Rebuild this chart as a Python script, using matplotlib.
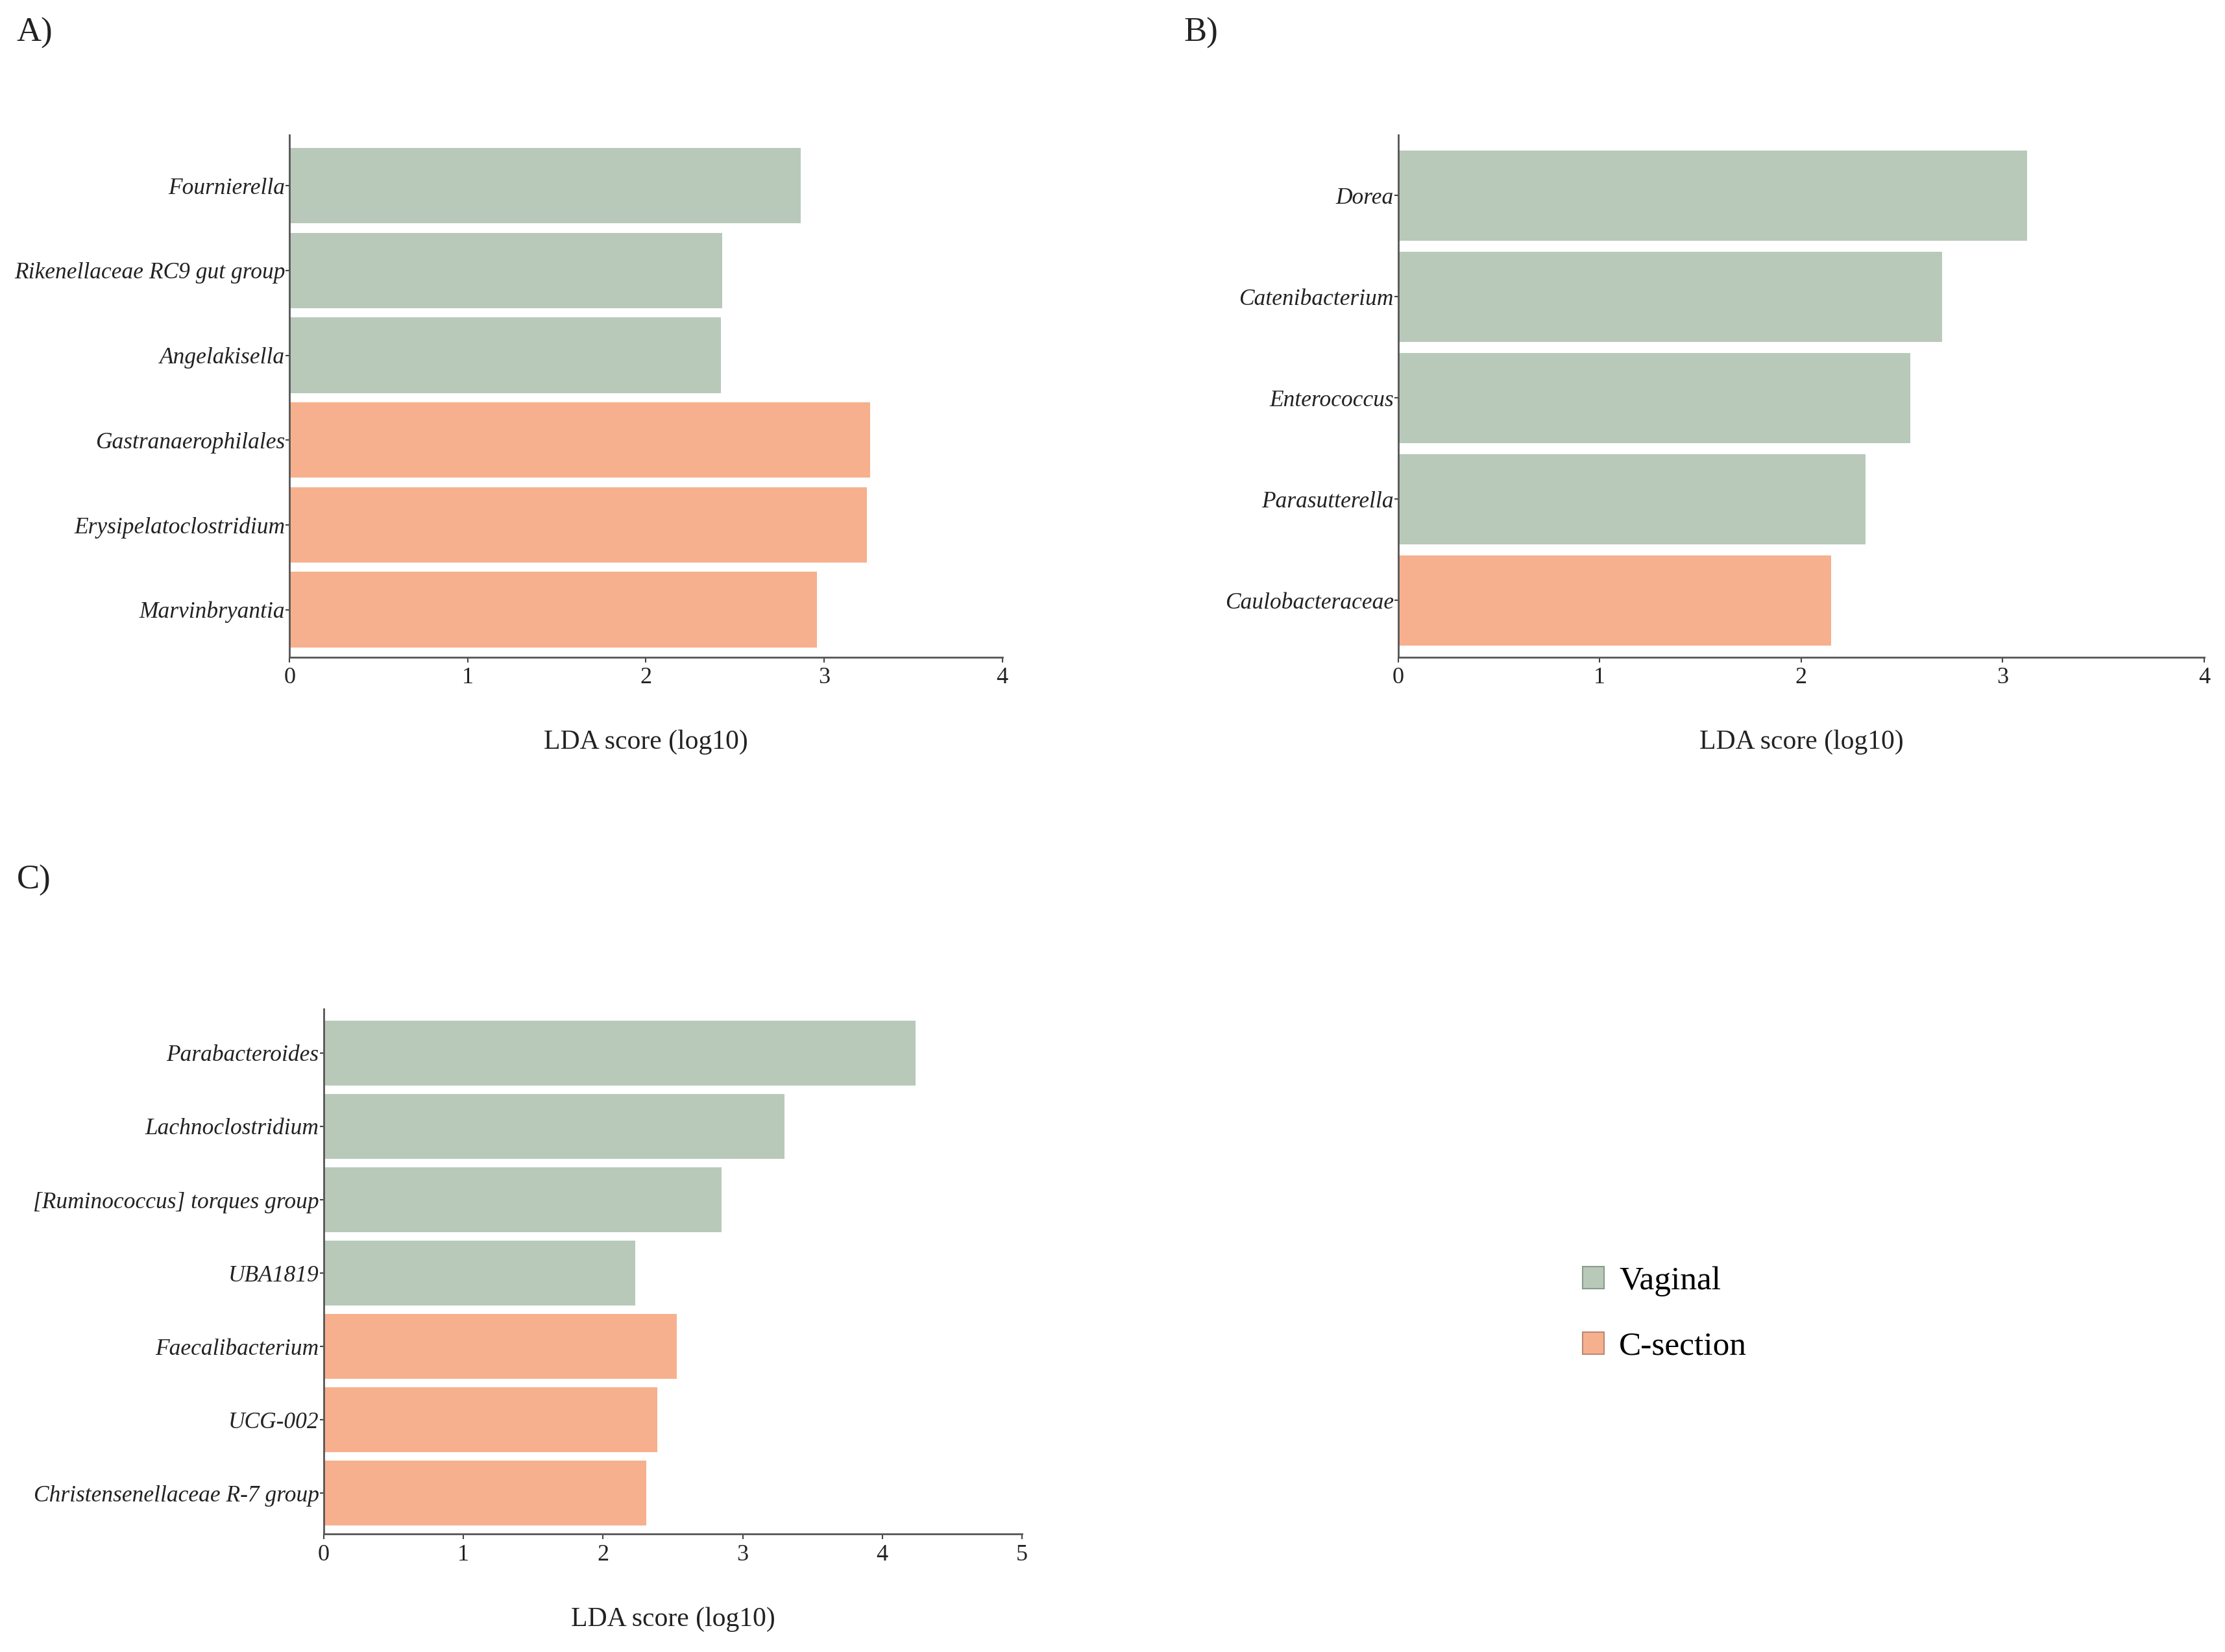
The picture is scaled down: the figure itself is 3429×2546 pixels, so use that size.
import matplotlib
matplotlib.use("Agg")
from matplotlib import pyplot as plt
from matplotlib.patches import Patch

plt.rcParams['font.family'] = ['Liberation Serif', 'DejaVu Serif']

green = "#b8c9ba"
orange = "#f7b08e"

#panel A
a_taxa = ["Fournierella", "Rikenellaceae RC9 gut group", "Angelakisella",
          "Gastranaerophilales", "Erysipelatoclostridium", "Marvinbryantia"]
a_lda = [2.87, 2.43, 2.42, 3.26, 3.24, 2.96]
a_group = ["Vaginal", "Vaginal", "Vaginal", "C-section", "C-section", "C-section"]

#panel B
b_taxa = ["Dorea", "Catenibacterium", "Enterococcus", "Parasutterella", "Caulobacteraceae"]
b_lda = [3.12, 2.70, 2.54, 2.32, 2.15]
b_group = ["Vaginal", "Vaginal", "Vaginal", "Vaginal", "C-section"]

#panel C
c_taxa = ["Parabacteroides", "Lachnoclostridium", "[Ruminococcus] torques group", "UBA1819",
          "Faecalibacterium", "UCG-002", "Christensenellaceae R-7 group"]
c_lda = [4.24, 3.30, 2.85, 2.23, 2.53, 2.39, 2.31]
c_group = ["Vaginal", "Vaginal", "Vaginal", "Vaginal", "C-section", "C-section", "C-section"]

group_colors = {"Vaginal": green, "C-section": orange}

fig = plt.figure(figsize=(34.30, 25.46), dpi=100)

def lda_panel(rect, taxa, lda, group, xmax, letter, letter_xy):
    ax = fig.add_axes(rect)
    n = len(taxa)
    ypos = list(range(n))
    ax.barh(ypos, lda, height=0.89, color=[group_colors[g] for g in group])
    ax.set_ylim(n - 1 + 0.56, -0.6)
    ax.set_xlim(0, xmax)
    ax.set_yticks(ypos)
    ax.set_yticklabels(taxa, fontstyle="italic", fontsize=25.5, color="#222222")
    ax.set_xticks(range(xmax + 1))
    ax.tick_params(axis="x", labelsize=26, length=6, width=1.5, pad=5, colors="#444444", labelcolor="#222222")
    ax.tick_params(axis="y", length=4, width=1.5, pad=1, colors="#444444", labelcolor="#222222")
    for s in ["top", "right"]:
        ax.spines[s].set_visible(False)
    for s in ["left", "bottom"]:
        ax.spines[s].set_color("#555555")
        ax.spines[s].set_linewidth(2)
    ax.set_xlabel("LDA score (log10)", fontsize=30, labelpad=46, color="#222222")
    fig.text(letter_xy[0], letter_xy[1], letter, fontsize=38, ha="left", va="center", color="#222222")
    return ax

lda_panel([0.1301, 0.6022, 0.3202, 0.3162], a_taxa, a_lda, a_group, 4, "A)", (0.0075, 0.980))
lda_panel([0.6282, 0.6022, 0.3622, 0.3162], b_taxa, b_lda, b_group, 4, "B)", (0.532, 0.980))
lda_panel([0.1454, 0.0713, 0.3138, 0.3179], c_taxa, c_lda, c_group, 5, "C)", (0.0075, 0.467))

handles = [Patch(facecolor=green, edgecolor="#8a9a8c", linewidth=1.5, label="Vaginal"),
           Patch(facecolor=orange, edgecolor="#b88a72", linewidth=1.5, label="C-section")]
fig.legend(handles=handles, loc="center left", bbox_to_anchor=(0.711, 0.2045), frameon=False,
           fontsize=37, handlelength=0.65, handleheight=0.65, handletextpad=0.45,
           labelspacing=1.05, borderpad=0, borderaxespad=0)

plt.savefig("out.png", dpi=100)
plt.close("all")
